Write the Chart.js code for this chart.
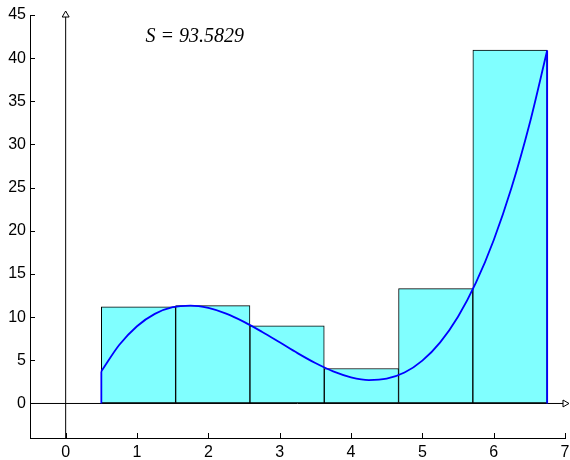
<!DOCTYPE html>
<html>
<head>
<meta charset="utf-8">
<script src="https://cdn.jsdelivr.net/npm/chart.js@4"></script>
<style>
  html, body { margin: 0; padding: 0; background: #fff; }
  #wrap { width: 570px; height: 460px; }
</style>
</head>
<body>
<div id="wrap"><canvas id="c"></canvas></div>
<script>
// 막대(상합) + 곡선. 값은 그림에서 읽은 값.
const barEdges = [0.5, 1.5417, 2.5833, 3.625, 4.6667, 5.7083, 6.75];
const barHeights = [11.2, 11.34, 9.0, 4.05, 13.3, 40.95];

const curveX = [0.5, 0.75, 1.0, 1.25, 1.5, 1.75, 2.0, 2.25, 2.5, 2.75, 3.0, 3.25, 3.5,
  3.75, 4.0, 4.25, 4.5, 4.75, 5.0, 5.25, 5.5, 5.75, 6.0, 6.25, 6.5, 6.75];
const curveY = [3.72, 6.77, 8.95, 10.38, 11.15, 11.34, 11.06, 10.40, 9.45, 8.31, 7.08, 5.83, 4.68,
  3.71, 3.03, 2.71, 2.87, 3.58, 4.96, 7.08, 10.05, 13.96, 18.91, 24.98, 32.28, 40.89];

const xTicks = [0, 1, 2, 3, 4, 5, 6, 7];
const yTicks = [0, 5, 10, 15, 20, 25, 30, 35, 40, 45];
const sumLabel = 'S = 93.5829';

const barData = barHeights.map((h, i) => ({ x: (barEdges[i] + barEdges[i + 1]) / 2, y: h }));
const curveData = curveX.map((x, i) => ({ x, y: curveY[i] }));
const first = curveData[0], last = curveData[curveData.length - 1];

const tickFont = { family: '"Liberation Sans", Arial, Helvetica, sans-serif', size: 16 };

// 안쪽 방향 눈금 + 텍스트
const decoPlugin = {
  id: 'deco',
  afterDraw(chart) {
    const { ctx, chartArea: a, scales: { x, y } } = chart;
    ctx.save();
    ctx.strokeStyle = '#000';
    ctx.lineWidth = 1;
    ctx.beginPath();
    xTicks.forEach(v => {
      const px = Math.round(x.getPixelForValue(v)) + 0.5;
      ctx.moveTo(px, a.bottom); ctx.lineTo(px, a.bottom - 5);
    });
    yTicks.forEach(v => {
      const py = Math.round(y.getPixelForValue(v)) + 0.5;
      ctx.moveTo(a.left, py); ctx.lineTo(a.left + 5, py);
    });
    ctx.stroke();
    ctx.font = 'italic 20px "Liberation Serif", "Times New Roman", serif';
    ctx.fillStyle = '#000';
    ctx.textAlign = 'left';
    ctx.textBaseline = 'middle';
    ctx.fillText(sumLabel, x.getPixelForValue(1.12), y.getPixelForValue(42.5));
    ctx.restore();
  },
};

new Chart(document.getElementById('c'), {
  type: 'bar',
  data: {
    datasets: [
      { type: 'bar', data: barData, backgroundColor: '#80ffff', borderColor: '#000', borderWidth: 1,
        borderSkipped: false, barThickness: 'flex', barPercentage: 1, categoryPercentage: 1, order: 4 },
      // 좌표축 (화살표)
      { type: 'line', data: [{ x: 0, y: -4 }, { x: 0, y: 45 }], borderColor: '#000', borderWidth: 1,
        pointStyle: 'triangle', pointRadius: [0, 4], pointBackgroundColor: '#fff', pointBorderColor: '#000',
        pointBorderWidth: 1, clip: false, order: 2 },
      { type: 'line', data: [{ x: -0.5, y: 0 }, { x: 7, y: 0 }], borderColor: '#000', borderWidth: 1,
        pointStyle: 'triangle', pointRadius: [0, 4], pointRotation: 90, pointBackgroundColor: '#fff',
        pointBorderColor: '#000', pointBorderWidth: 1, clip: false, order: 2 },
      // 곡선 + 양끝 수직선
      { type: 'line', data: curveData, borderColor: '#0000ff', borderWidth: 1.8, pointRadius: 0,
        cubicInterpolationMode: 'monotone', fill: false, order: 1 },
      { type: 'line', data: [{ x: first.x, y: 0 }, first], borderColor: '#0000ff', borderWidth: 1.8,
        pointRadius: 0, order: 1 },
      { type: 'line', data: [{ x: last.x, y: 0 }, last], borderColor: '#0000ff', borderWidth: 1.8,
        pointRadius: 0, order: 1 },
    ],
  },
  options: {
    responsive: true,
    maintainAspectRatio: false,
    animation: false,
    layout: { padding: { top: 15, right: 0, left: 0, bottom: 0 } },
    plugins: { legend: { display: false }, tooltip: { enabled: false } },
    scales: {
      x: {
        type: 'linear', min: -0.5, max: 7, offset: false,
        afterBuildTicks: s => { s.ticks = xTicks.map(v => ({ value: v })); },
        afterFit: s => { s.height = 22; s.paddingRight = 4; s.paddingLeft = 0; },
        grid: { display: true, drawOnChartArea: false, drawTicks: false, offset: false },
        border: { display: true, color: '#000', width: 1 },
        ticks: { font: tickFont, color: '#000', padding: 5, maxRotation: 0 },
      },
      y: {
        type: 'linear', min: -4, max: 45,
        afterBuildTicks: s => { s.ticks = yTicks.map(v => ({ value: v })); },
        afterFit: s => { s.width = 30; },
        grid: { display: true, drawOnChartArea: false, drawTicks: false },
        border: { display: true, color: '#000', width: 1 },
        ticks: { font: tickFont, color: '#000', padding: 4 },
      },
    },
  },
  plugins: [decoPlugin],
});
</script>
</body>
</html>
